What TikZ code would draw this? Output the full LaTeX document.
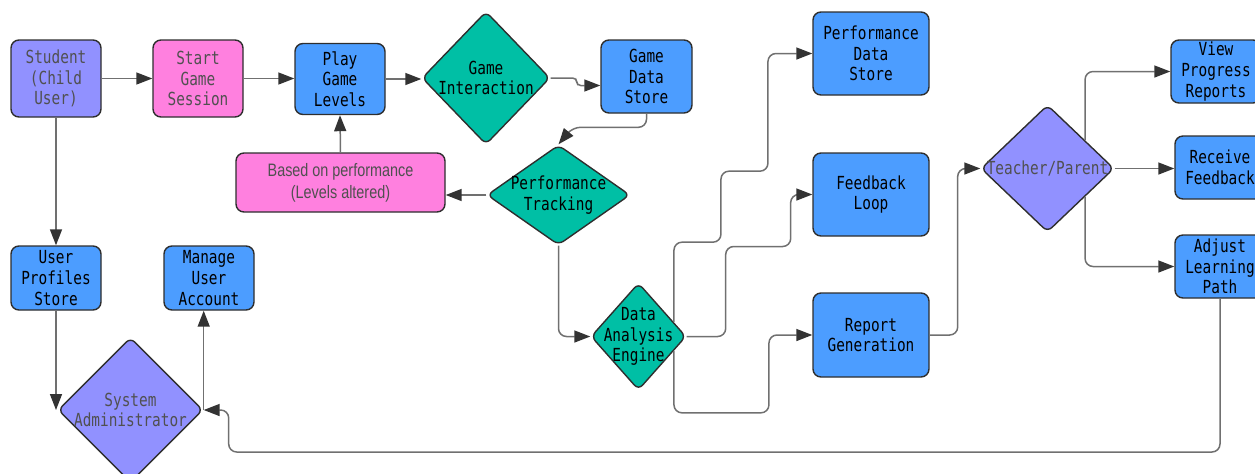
\documentclass[tikz,border=0pt]{standalone}
\usepackage{fontspec}
\usetikzlibrary{shapes.geometric,arrows.meta}
\newfontfamily\monof[FakeStretch=0.8]{DejaVu Sans Mono}
\newfontfamily\narrowf[FakeStretch=0.8]{Liberation Sans}
\definecolor{lavender}{HTML}{9191FF}
\definecolor{pinkfill}{HTML}{FF80DF}
\definecolor{bluefill}{HTML}{4C9DFF}
\definecolor{tealfill}{HTML}{00BFA5}
\definecolor{edgec}{HTML}{2E2E2E}
\definecolor{wirec}{HTML}{707070}
\definecolor{tipc}{HTML}{333333}
\definecolor{greytext}{HTML}{505050}

\tikzset{
  box/.style={draw=edgec, line width=0.7pt, rounded corners=4pt, inner sep=0pt,
    align=center, font={\monof\fontsize{9}{10.3}\selectfont},
    minimum width=45pt, minimum height=38.5pt},
  dia/.style={diamond, draw=edgec, line width=0.7pt, rounded corners=3pt, inner sep=0pt},
  dtext/.style={align=center, inner sep=0pt, font={\monof\fontsize{9}{10.3}\selectfont}},
  wire/.style={draw=wirec, line width=0.75pt, rounded corners=4pt, ->},
}

\begin{document}
\begin{tikzpicture}[x=0.5pt, y=-0.5pt, >={Triangle[length=8pt, width=6pt, color=tipc]}]
    \useasboundingbox (0,0) rectangle (1255,473);

    % Game loop of the child
    \node[box, fill=lavender, text=greytext] (stu) at (56,78.5) {Student\\(Child\\User)};
    \node[box, fill=pinkfill, text=greytext] (sgs) at (198,78.5) {Start\\Game\\Session};
    \node[box, fill=bluefill, minimum height=35.5pt] (pgl) at (340,79) {Play\\Game\\Levels};
    \node[dia, fill=tealfill, minimum width=64pt, minimum height=66.5pt,
          label={[dtext]center:{Game\\Interaction}}] (gi) at (486,78) {};
    \node[box, fill=bluefill, minimum width=45.5pt, minimum height=36.5pt] (gds) at (646.5,76.5) {Game\\Data\\Store};
    \node[box, fill=pinkfill, text=greytext, minimum width=104.5pt, minimum height=29.5pt,
          font={\narrowf\fontsize{9}{11}\selectfont}] (bop) at (340.5,182.5) {Based on performance\\(Levels altered)};
    \node[dia, fill=tealfill, minimum width=71.5pt, minimum height=50pt,
          label={[dtext]center:{Performance\\Tracking}}] (pt) at (558.5,195) {};
    \node[dia, fill=tealfill, minimum width=47.5pt, minimum height=53.5pt,
          label={[dtext]center:{Data\\Analysis\\Engine}}] (dae) at (638.5,336.5) {};

    % Accounts and administration
    \node[box, fill=bluefill, minimum height=32pt] (ups) at (56,278) {User\\Profiles\\Store};
    \node[box, fill=bluefill, minimum height=32pt] (mua) at (209,278) {Manage\\User\\Account};
    \node[dia, fill=lavender, minimum width=72.5pt, minimum height=72.5pt,
          label={[dtext, text=greytext]center:{System\\Administrator}}] (sa) at (130.5,410) {};

    % Analysis outputs
    \node[box, fill=bluefill, minimum width=58pt, minimum height=41.5pt] (pds) at (871,53.5) {Performance\\Data\\Store};
    \node[box, fill=bluefill, minimum width=58pt, minimum height=41.5pt] (fl) at (871,194.5) {Feedback\\Loop};
    \node[box, fill=bluefill, minimum width=58pt, minimum height=42pt] (rg) at (871,335) {Report\\Generation};

    % Teacher / parent side
    \node[dia, fill=lavender, minimum width=66.5pt, minimum height=63.5pt,
          label={[dtext, text=greytext]center:{Teacher/Parent}}] (tp) at (1047.5,168.5) {};
    \node[box, fill=bluefill, minimum height=31.5pt] (vpr) at (1216,71.5) {View\\Progress\\Reports};
    \node[box, fill=bluefill, minimum height=31.5pt] (rf) at (1220,167.5) {Receive\\Feedback};
    \node[box, fill=bluefill, minimum height=31.5pt] (alp) at (1220,266.5) {Adjust\\Learning\\Path};

    % Connectors
    \draw[wire] (stu.east) -- (sgs.west);
    \draw[wire] (sgs.east) -- (sgs.east -| pgl.west);
    \draw[wire] (pgl.east) -- (pgl.east -| gi.west);
    \draw[wire, rounded corners=2pt] (gi.east) -- ++(26,0) |- ([yshift=-4.5pt]gds.west);
    \draw[wire] (gds.south) |- ([xshift=7pt, yshift=8.5pt]pt.north) -- (pt.north);
    \draw[wire] (pt.west) -- (pt.west -| bop.east);
    \draw[wire] (bop.north) -- (pgl.south);
    \draw[wire] (pt.south) |- (dae.west);

    \draw[wire] (dae.22) -- ++(0,-80) -- ++(47,0) -- ++(0,-71) -- ++(47,0) |- (pds.west);
    \draw[wire] (dae.east) -- ++(39,0) -- ++(0,-90) -- ++(65,0) |- (fl.west);
    \draw[wire] (dae.-22) -- ++(0,62) -- ++(95,0) |- (rg.west);

    \draw[wire] (rg.east) -- ++(28,0) |- (tp.west);
    \draw[wire] (tp.37) |- (vpr.west);
    \draw[wire] (tp.east) -- (tp.east -| rf.west);
    \draw[wire] (tp.-37) |- (alp.west);
    \draw[wire] (alp.south) |- ([xshift=12.5pt, yshift=-21pt]sa.east) |- (sa.east);

    \draw[wire] (stu.south) -- (ups.north);
    \draw[wire] (ups.south) -- (ups.south |- sa.west);
    \draw[wire] (sa.east) -- (sa.east |- mua.south);
\end{tikzpicture}
\end{document}
